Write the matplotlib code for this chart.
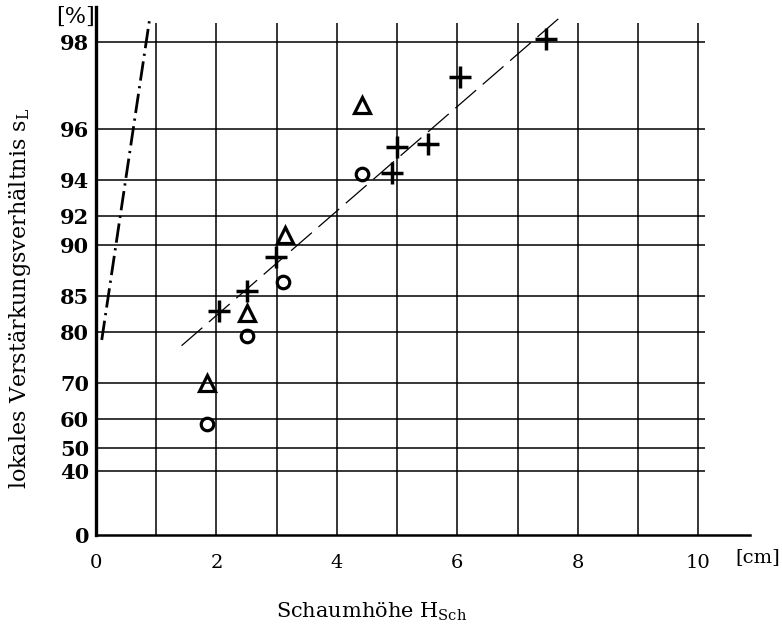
### Schaumhoehe vs. lokales Verstaerkungsverhaeltnis

import numpy as np
import matplotlib
matplotlib.use('Agg')
import matplotlib.pyplot as plt

# data
plus_x = [2.05, 2.50, 2.99, 4.92, 4.99, 5.52, 6.05, 7.48]
plus_s = [83.1, 85.6, 89.0, 94.35, 95.4, 95.5, 97.35, 98.04]

circ_x = [1.85, 2.50, 3.10, 4.41]
circ_s = [58.5, 79.4, 86.5, 94.3]

tri_x = [1.84, 2.51, 3.14, 4.41]
tri_s = [70.1, 82.8, 90.7, 96.7]

fit_x = [1.42, 7.75]          # dashed line through the + points
fit_s = [77.7, 98.38]

dd_x = [0.095, 0.885]         # dash-dot line
dd_s = [78.7, 98.30]

y_ticks = [0, 40, 50, 60, 70, 80, 85, 90, 92, 94, 96, 98]
x_ticks = [0, 2, 4, 6, 8, 10]
x_grid = [1, 2, 3, 4, 5, 6, 7, 8, 9, 10]

plt.rcParams['font.family'] = 'DejaVu Serif'
plt.rcParams['mathtext.fontset'] = 'dejavuserif'


def fwd(s):
    s = np.clip(np.asarray(s, dtype=float), None, 99.999)
    return -np.log(1 - s / 100.0)


def inv(y):
    return 100.0 * (1 - np.exp(-np.asarray(y, dtype=float)))


fig = plt.figure(figsize=(7.82, 6.28), dpi=100)
ax = fig.add_axes([0.1228, 0.1481, 0.8363, 0.8408])
ax.set_yscale('function', functions=(fwd, inv))
ax.set_xlim(0, 10.86)
ax.set_ylim(0, 98.48)

# grid drawn by hand so it stops where the printed grid stops
ax.vlines(x_grid, 0, 98.28, color='black', lw=1.1, zorder=1)
ax.hlines(y_ticks[1:], 0, 10.12, color='black', lw=1.1, zorder=1)

ax.plot(fit_x, fit_s, color='black', lw=0.9, dashes=(22, 7), zorder=2)
ax.plot(dd_x, dd_s, color='black', lw=2.0, dashes=(7, 2, 0.8, 2), zorder=2)

ax.plot(plus_x, plus_s, ls='none', marker='+', ms=16, mew=2.5, color='black', zorder=3)
ax.plot(circ_x, circ_s, ls='none', marker='o', ms=9, mew=2.3, mfc='none', mec='black', zorder=3)
ax.plot(tri_x, tri_s, ls='none', marker='^', ms=12, mew=2.3, mfc='none', mec='black', zorder=3)

ax.spines['top'].set_visible(False)
ax.spines['right'].set_visible(False)
ax.spines['left'].set_linewidth(2.4)
ax.spines['bottom'].set_linewidth(1.8)

ax.set_yticks(y_ticks)
ax.set_yticklabels([str(v) for v in y_ticks], fontsize=15, fontweight='bold')
ax.yaxis.set_minor_locator(matplotlib.ticker.NullLocator())
ax.set_xticks(x_ticks)
ax.set_xticklabels([str(v) for v in x_ticks], fontsize=14)
ax.tick_params(axis='y', length=0, pad=5)
ax.tick_params(axis='x', length=0, pad=14)

fig.text(76 / 782, 1 - 17 / 628, '[%]', fontsize=16, ha='center', va='center')
fig.text(758 / 782, 1 - 557 / 628, '[cm]', fontsize=14, ha='center', va='center')
fig.text(372 / 782, 1 - 612 / 628, 'Schaumhöhe H$_{\\mathrm{Sch}}$', fontsize=15,
         ha='center', va='center')
fig.text(20 / 782, 1 - 298 / 628, 'lokales Verstärkungsverhältnis s$_{\\mathrm{L}}$',
         fontsize=16, ha='center', va='center', rotation=90)

fig.savefig('out.png', dpi=100)
